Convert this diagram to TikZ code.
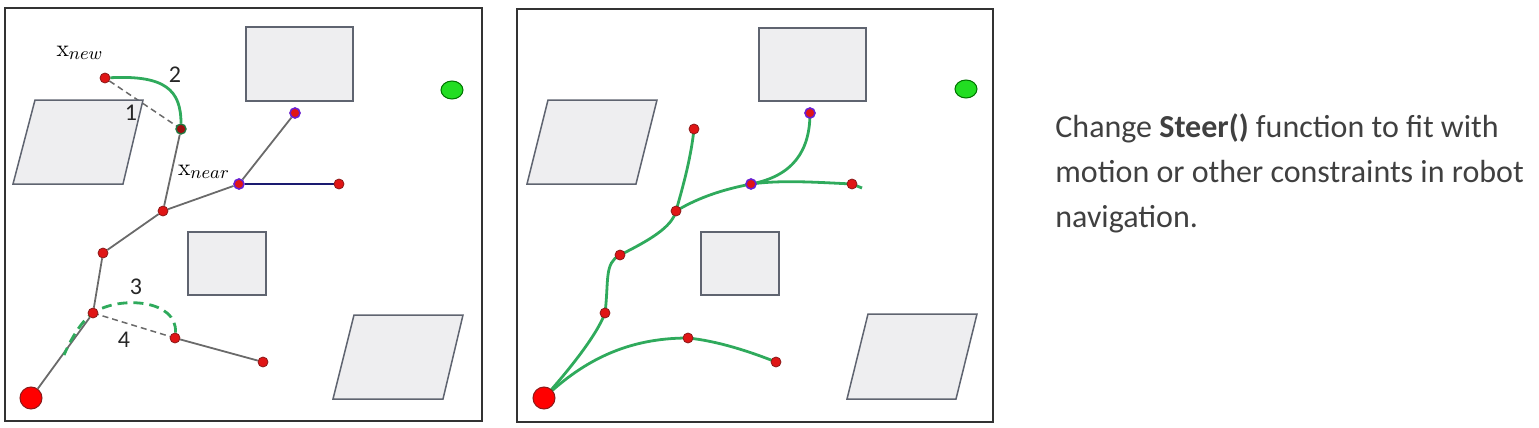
\documentclass[tikz,border=0pt]{standalone}
\usepackage[no-math]{fontspec}
\setmainfont{Carlito}
\usetikzlibrary{shapes.geometric}
\pgfdeclarelayer{bg}
\pgfsetlayers{bg,main}
\definecolor{obsfill}{HTML}{EEEEF0}
\definecolor{obsline}{HTML}{5F6470}
\definecolor{edgegray}{HTML}{6A6A6A}
\definecolor{pathgreen}{HTML}{2FAA5C}
\definecolor{goalgreen}{HTML}{22DD22}
\definecolor{nodered}{HTML}{E01515}
\definecolor{nodeborder}{HTML}{8B1A1A}
\definecolor{ringpurple}{HTML}{6A1FD0}
\definecolor{navyline}{HTML}{1A1A70}
\definecolor{txtgray}{HTML}{404040}
\begin{document}
\begin{tikzpicture}[x=0.5pt,y=-0.5pt,
  frame/.style={draw=black!80,line width=1pt},
  obs/.style={fill=obsfill,draw=obsline,line width=0.75pt},
  tnode/.style={circle,fill=nodered,draw=nodeborder,line width=0.4pt,inner sep=0pt,minimum size=5pt},
  ringnode/.style={tnode,draw=ringpurple,line width=0.8pt},
  nearnode/.style={tnode,fill=nodered!70!black,draw=pathgreen!70!black,line width=0.7pt},
  startnode/.style={circle,fill=red,draw=nodeborder,line width=0.5pt,inner sep=0pt,minimum size=11pt},
  goalnode/.style={ellipse,fill=goalgreen,draw=green!45!black,line width=0.5pt,inner sep=0pt,minimum width=11pt,minimum height=9pt},
  tedge/.style={draw=edgegray,line width=0.9pt},
  gdash/.style={draw=edgegray,line width=0.75pt,dashed,dash pattern=on 3pt off 2pt},
  gcurve/.style={draw=pathgreen,line width=1.4pt},
  gcurvedash/.style={draw=pathgreen,line width=1.4pt,dash pattern=on 5pt off 3pt},
  mlabel/.style={font=\fontsize{13}{15}\selectfont,inner sep=0pt},
  nlabel/.style={font=\fontsize{12}{14}\selectfont,inner sep=0pt,text=black!85},
  desc/.style={font=\fontsize{16}{19}\selectfont,text=txtgray,anchor=base west,inner sep=0pt}
]
\path[use as bounding box] (0,0) rectangle (1539,428);

% ---------------- left panel ----------------
\draw[frame] (5,8) rectangle (482,421);
\draw[obs] (246,27) rectangle (353,101);
\draw[obs] (188,232) rectangle (266,295);
\draw[obs] (35,100) -- (143,100) -- (123,184) -- (13,184) -- cycle;
\draw[obs] (354,315) -- (463,315) -- (443,399) -- (333,399) -- cycle;

\node[goalnode] (Lg) at (452,90) {};
\node[startnode] (Ls) at (31,398) {};
\node[tnode] (L1) at (93,313) {};
\node[tnode] (L2) at (103,253) {};
\node[tnode] (L3) at (163,211) {};
\node[nearnode] (Lnear) at (181,129) {};
\node[tnode] (Lnew) at (105,78) {};
\node[ringnode] (Lp) at (239,184) {};
\node[ringnode] (Lt) at (295,113) {};
\node[tnode] (Lr) at (339,184) {};
\node[tnode] (L4) at (175,338) {};
\node[tnode] (L5) at (263,362) {};
\coordinate (Ld) at (64,355);

\begin{pgfonlayer}{bg}
\draw[tedge] (Ls) -- (L1) -- (L2) -- (L3) -- (Lnear);
\draw[tedge] (L3) -- (Lp) -- (Lt);
\draw[draw=navyline,line width=1pt] (Lp) -- (Lr);
\draw[tedge] (L4) -- (L5);
\draw[gdash] (L1.center) -- (L4);
\draw[gdash] (Lnew) -- (Lnear.center);
\draw[gcurve] (Lnew) .. controls +(60,-3) and +(0,-39) .. (Lnear);
\draw[gcurvedash] (L4) .. controls +(3,-38) and +(27,-18) .. (L1.center)
   .. controls +(-12,8) and +(6,-14) .. (Ld);
\end{pgfonlayer}

\node[mlabel] (lnew) at (80,53) {$\mathrm{x}_{new}$};
\node[mlabel] (lnear) at (204,172) {$\mathrm{x}_{near}$};
\node[nlabel] (l1) at (131,113) {1};
\node[nlabel] (l2) at (175,75) {2};
\node[nlabel] (l3) at (136,287) {3};
\node[nlabel] (l4) at (124,340) {4};

% ---------------- right panel ----------------
\draw[frame] (517,9) rectangle (993,422);
\draw[obs] (759,28) rectangle (866,101);
\draw[obs] (701,232) rectangle (779,295);
\draw[obs] (548,100) -- (657,100) -- (636,184) -- (527,184) -- cycle;
\draw[obs] (868,314) -- (977,314) -- (956,399) -- (847,399) -- cycle;

\node[goalnode] (Rg) at (966,89) {};
\node[startnode] (Rs) at (544,398) {};
\node[tnode] (R1) at (605,313) {};
\node[tnode] (R2) at (620,255) {};
\node[tnode] (R3) at (676,211) {};
\node[tnode] (R4) at (694,129) {};
\node[ringnode] (Rp) at (751,184) {};
\node[ringnode] (Rt) at (810,113) {};
\node[tnode] (Rr) at (852,184) {};
\node[tnode] (R5) at (688,338) {};
\node[tnode] (R6) at (776,362) {};
\coordinate (Re) at (862,188);

\begin{pgfonlayer}{bg}
\draw[gcurve] (Rs.center) .. controls +(25,-28) and +(-8,22) .. (R1.center);
\draw[gcurve] (R1.center) .. controls +(4,-32) and +(-16,8) .. (R2.center);
\draw[gcurve] (R2.center) .. controls +(30,-15) and +(-4,16) .. (R3.center);
\draw[gcurve] (R3.center) .. controls +(8,-28) and +(-3,28) .. (R4.center);
\draw[gcurve] (R3.center) .. controls +(25,-15) and +(-25,5) .. (Rp.center);
\draw[gcurve] (Rp.center) .. controls +(42,-8) and +(0,38) .. (Rt.center);
\draw[gcurve] (Rp.center) .. controls +(30,-4) and +(-40,-2) .. (Rr.center) -- (Re);
\draw[gcurve] (Rs.center) .. controls +(40,-38) and +(-60,0) .. (R5.center);
\draw[gcurve] (R5.center) .. controls +(30,3) and +(-25,-10) .. (R6.center);
\end{pgfonlayer}

% ---------------- description ----------------
\node[desc] (t1) at (1055,137) {Change \textbf{Steer()} function to fit with};
\node[desc] (t2) at (1055,182) {motion or other constraints in robot};
\node[desc] (t3) at (1055,227) {navigation.};
\end{tikzpicture}
\end{document}
